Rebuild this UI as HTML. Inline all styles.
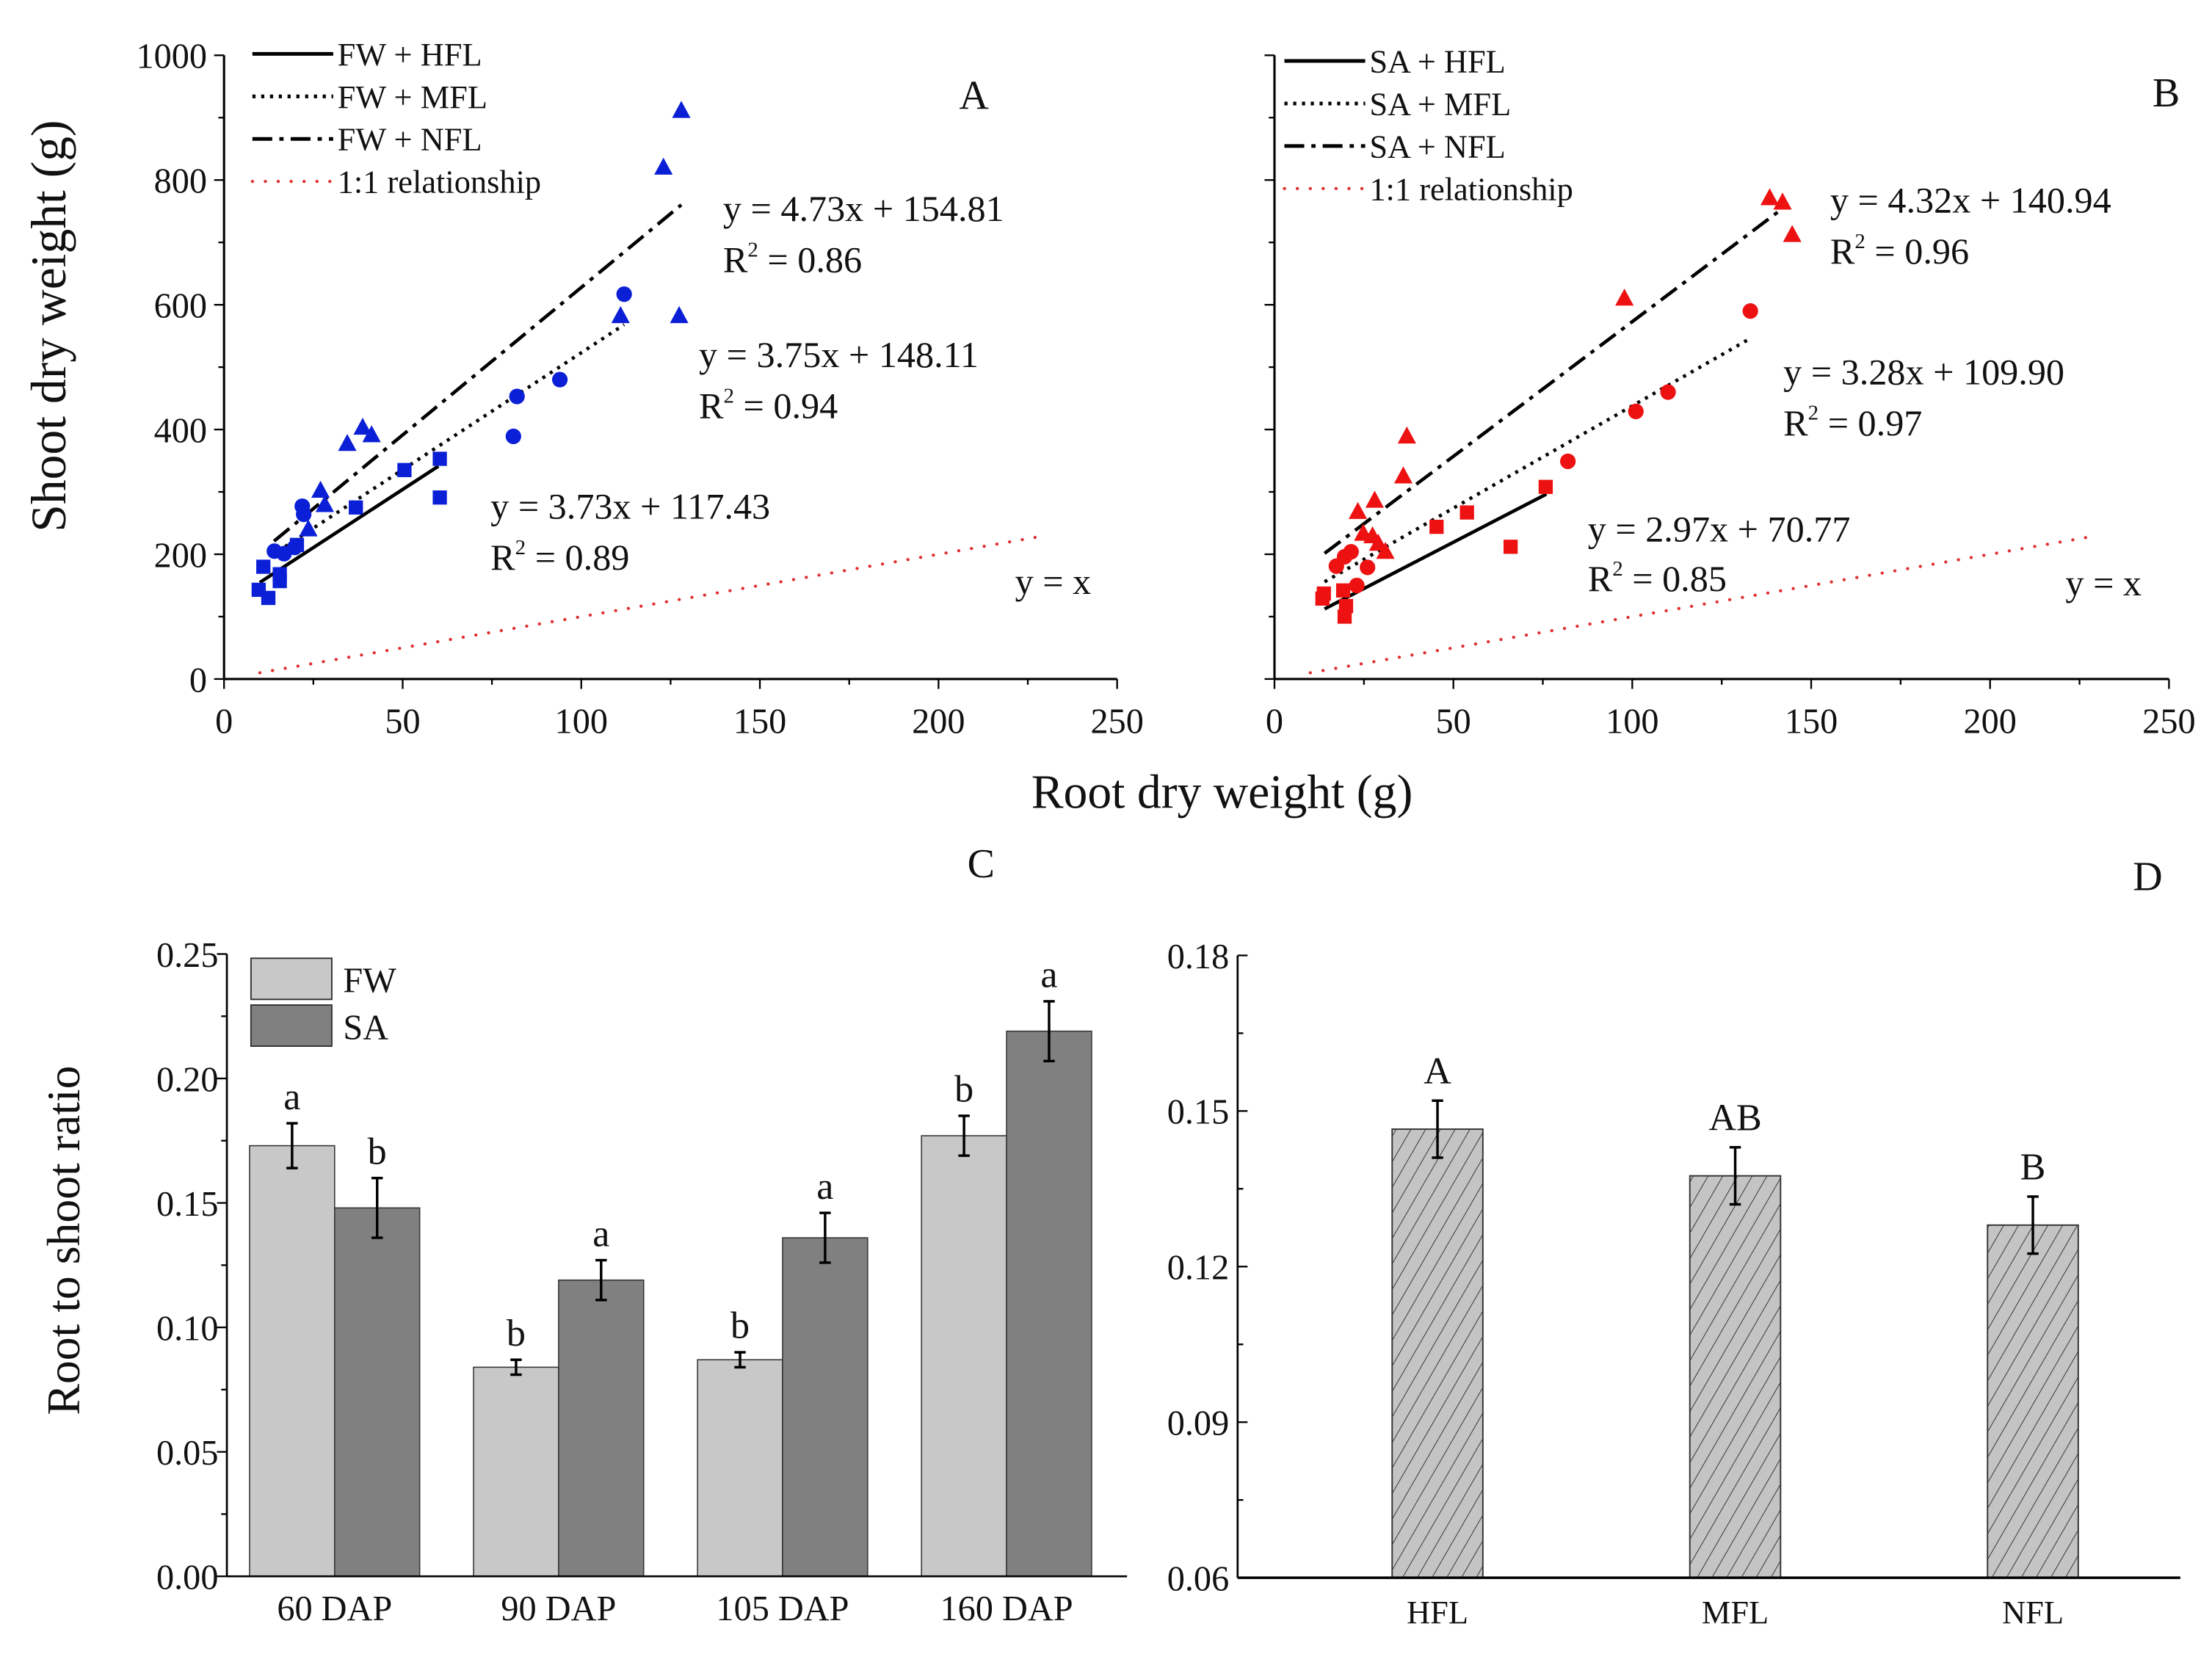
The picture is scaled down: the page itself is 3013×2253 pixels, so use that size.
<!DOCTYPE html>
<html><head><meta charset="utf-8"><style>
html,body{margin:0;padding:0;background:#fff;}
svg{display:block;font-family:"Liberation Serif",serif;}
</style></head><body>
<svg id="fig" width="3013" height="2253" viewBox="0 0 1560.3 1166.8" xmlns="http://www.w3.org/2000/svg">
<defs>
<pattern id="hatch" patternUnits="userSpaceOnUse" width="9" height="9" patternTransform="rotate(30)">
<rect width="9" height="9" fill="#c4c4c4"/><line x1="0" y1="0" x2="0" y2="9" stroke="#333" stroke-width="1"/>
</pattern>
</defs>
</svg>
<script>
// ---------- Panel A data ----------
const aHflX=[60.4,60.4,50.5,36.9,20.4,11,15.6,15.6,9.7,12.4];
const aHflY=[353,291,335,275,215,180,168,157,143,130];
const aMflX=[112,94,82,81,21.9,22.3,14.1,16.8,19.8];
const aMflY=[617,480,453,389,277,264,205,201,211];
const aNflX=[128,123,127.4,111,34.5,38.8,41.3,27,28.2,23.6];
const aNflY=[911,820,582,582,377,403,391,302,279,240];
const aFits=[[3.73,117.43,10,60],[3.75,148.11,13,112],[4.73,154.81,14,128]];
// ---------- Panel B data ----------
const bHflX=[75.8,53.8,45.3,66,13.8,13.4,19.2,19.6,20];
const bHflY=[308,267,244,212,137,129,142,100,117];
const bMflX=[133,110,101,82,26,21.4,17.3,19.6,23];
const bMflY=[590,460,429,349,179,204,181,196,150];
const bNflX=[138.4,142,144.7,97.8,37,36,28,23.3,24.8,27.4,31,29];
const bNflY=[771,764,712,610,389,325,286,268,233,229,204,217];
const bFits=[[2.97,70.77,14,76],[3.28,109.90,14,133],[4.32,140.94,14,143]];
const xTicks=[0,50,100,150,200,250];
const yTicks=[0,200,400,600,800,1000];
// ---------- Panel C data ----------
const cCats=["60 DAP","90 DAP","105 DAP","160 DAP"];
const cFW=[0.173,0.084,0.087,0.177];
const cSA=[0.148,0.119,0.136,0.219];
const cFWerr=[0.009,0.003,0.003,0.008];
const cSAerr=[0.012,0.008,0.010,0.012];
const cFWlet=["a","b","b","b"];
const cSAlet=["b","a","a","a"];
const cTicks=["0.00","0.05","0.10","0.15","0.20","0.25"];
// ---------- Panel D data ----------
const dCats=["HFL","MFL","NFL"];
const dVals=[0.1465,0.1375,0.128];
const dErr=[0.0055,0.0055,0.0055];
const dLet=["A","AB","B"];
const dTicks=["0.06","0.09","0.12","0.15","0.18"];

const svg=document.getElementById('fig');
const NS="http://www.w3.org/2000/svg";
function mk(tag,at,parent){const e=document.createElementNS(NS,tag);for(const k in at)e.setAttribute(k,at[k]);(parent||svg).appendChild(e);return e;}
function txt(s,x,y,size,anchor,parent){const t=mk('text',{x:x,y:y,'font-size':size,'text-anchor':anchor||'start',fill:'#111'},parent);t.textContent=s;return t;}

function scatterPanel(id,x0,x1,y0,y1,color,hx,hy,mx,my,nx,ny,fits,prefix,legX,legY,ann,letter,letPos,showYLabels){
  const g=mk('g',{});
  
  
  const sx=v=>x0+(v/250)*(x1-x0), sy=v=>y0-(v/1000)*(y0-y1);
  mk('line',{x1:x0,y1:y0,x2:x1,y2:y0,stroke:'#000','stroke-width':1.6},g);
  mk('line',{x1:x0,y1:y0,x2:x0,y2:y1,stroke:'#000','stroke-width':1.6},g);
  for(let v=0;v<=250;v+=25){const big=v%50===0;mk('line',{x1:sx(v),y1:y0,x2:sx(v),y2:y0+(big?7:4),stroke:'#000','stroke-width':1.2},g);}
  xTicks.forEach(v=>{const t=txt(String(v),sx(v),y0+38,25,'middle',g);});
  for(let v=0;v<=1000;v+=100){const big=v%200===0;mk('line',{x1:x0,y1:sy(v),x2:x0-(big?7:4),y2:sy(v),stroke:'#000','stroke-width':1.2},g);}
  if(showYLabels) yTicks.forEach(v=>{const t=txt(String(v),x0-12,sy(v)+9,25,'end',g);});
  const one=mk('line',{x1:sx(10),y1:sy(10),x2:sx(230),y2:sy(230),stroke:'#e03030','stroke-width':2.2,'stroke-dasharray':'0.1 9','stroke-linecap':'round'},g);
  
  const dashes=['none','2.2 4','14 5 3 5'];
  const fitNames=['hfl-fit-line','mfl-fit-line','nfl-fit-line'];
  fits.forEach((f,i)=>{const l=mk('line',{x1:sx(f[2]),y1:sy(f[0]*f[2]+f[1]),x2:sx(f[3]),y2:sy(f[0]*f[3]+f[1]),stroke:'#000','stroke-width':2.4,'stroke-dasharray':dashes[i]},g);
    });
  hx.forEach((v,i)=>{const r=mk('rect',{x:sx(v)-5,y:sy(hy[i])-5,width:10,height:10,fill:color},g);
    });
  mx.forEach((v,i)=>{const c=mk('circle',{cx:sx(v),cy:sy(my[i]),r:5.5,fill:color},g);
    });
  nx.forEach((v,i)=>{const X=sx(v),Y=sy(ny[i]);const p=mk('polygon',{points:`${X},${Y-7} ${X-6.5},${Y+5} ${X+6.5},${Y+5}`,fill:color},g);
    });
  const labs=[prefix+' + HFL',prefix+' + MFL',prefix+' + NFL','1:1 relationship'];
  labs.forEach((s,i)=>{const y=legY+i*30;
    if(i<3) mk('line',{x1:legX,y1:y,x2:legX+57,y2:y,stroke:'#000','stroke-width':2.6,'stroke-dasharray':dashes[i]},g);
    else mk('line',{x1:legX,y1:y,x2:legX+57,y2:y,stroke:'#e03030','stroke-width':2.2,'stroke-dasharray':'0.1 9','stroke-linecap':'round'},g);
    const t=txt(s,legX+60,y+8,23,'start',g);});
  ann.forEach(a=>{const t=mk('text',{x:a[1],y:a[2],'font-size':26,fill:'#111'},g);
    if(a[0].startsWith('R2')){t.innerHTML='R<tspan font-size="15" dy="-11">2</tspan><tspan dy="11"> = '+a[0].slice(3)+'</tspan>';}
    else t.textContent=a[0];
    });
  const L=txt(letter,letPos[0],letPos[1],29,'middle',g);
}
scatterPanel('panel-a-scatter',158,788,479,39,'#0a1fd6',aHflX,aHflY,aMflX,aMflY,aNflX,aNflY,aFits,'FW',178,38,
 [['y = 4.73x + 154.81',510,156],['R2 0.86',510,192],['y = 3.75x + 148.11',493,259],['R2 0.94',493,295],['y = 3.73x + 117.43',346,366],['R2 0.89',346,402],['y = x',716,419]],'A',[687,77],true);
scatterPanel('panel-b-scatter',899,1530,479,39,'#ee1111',bHflX,bHflY,bMflX,bMflY,bNflX,bNflY,bFits,'SA',906,43,
 [['y = 4.32x + 140.94',1291,150],['R2 0.96',1291,186],['y = 3.28x + 109.90',1258,271],['R2 0.97',1258,307],['y = 2.97x + 70.77',1120,382],['R2 0.85',1120,417],['y = x',1457,420]],'B',[1528,75],false);
let t=txt('Root dry weight (g)',862,570,34,'middle');
t=txt('Shoot dry weight (g)',0,0,35,'middle');t.setAttribute('transform','translate(46,230) rotate(-90)');

// ---------- Panel C ----------
(function(){
  const g=mk('g',{});
  
  
  const x0=160,x1=795,y0=1112,y1=673;
  const sy=v=>y0-(v/0.25)*(y0-y1);
  const gw=158, bw=60, start=236;
  cCats.forEach((c,i)=>{
    const cx=start+gw*i;
    [[cFW,cFWerr,cFWlet,'#c8c8c8',-1,'fw-bar'],[cSA,cSAerr,cSAlet,'#808080',0,'sa-bar']].forEach(s=>{
      const bx=cx+s[4]*bw, v=s[0][i], e=s[1][i];
      const r=mk('rect',{x:bx,y:sy(v),width:bw,height:y0-sy(v),fill:s[3],stroke:'#333','stroke-width':0.8},g);
      
      const ex=bx+bw/2;
      mk('line',{x1:ex,y1:sy(v+e),x2:ex,y2:sy(v-e),stroke:'#000','stroke-width':1.8},g);
      mk('line',{x1:ex-4,y1:sy(v+e),x2:ex+4,y2:sy(v+e),stroke:'#000','stroke-width':1.8},g);
      mk('line',{x1:ex-4,y1:sy(v-e),x2:ex+4,y2:sy(v-e),stroke:'#000','stroke-width':1.8},g);
      const l=txt(s[2][i],ex,sy(v+e)-10,27,'middle',g);
    });
    const lab=txt(c,cx,y0+31,25,'middle',g);
  });
  mk('line',{x1:x0,y1:y0,x2:x1,y2:y0,stroke:'#000','stroke-width':1.4},g);
  mk('line',{x1:x0,y1:y0,x2:x0,y2:y1,stroke:'#000','stroke-width':1.4},g);
  for(let k=0;k<=10;k++){const v=k*0.025;mk('line',{x1:x0,y1:sy(v),x2:x0-(k%2?4:7),y2:sy(v),stroke:'#000','stroke-width':1.2},g);}
  cTicks.forEach(s=>{const l=txt(s,x0-6,sy(parseFloat(s))+9,25,'end',g);});
  [['FW','#c8c8c8',676],['SA','#808080',709]].forEach(s=>{
    const r=mk('rect',{x:177,y:s[2],width:57,height:29,fill:s[1],stroke:'#333','stroke-width':1},g);
    
    const l=txt(s[0],242,s[2]+24,25,'start',g);});
  let y=txt('Root to shoot ratio',0,0,33,'middle',g);y.setAttribute('transform','translate(56,875) rotate(-90)');
  let L=txt('C',692,619,29,'middle',g);
})();

// ---------- Panel D ----------
(function(){
  const g=mk('g',{});
  
  
  const x0=873,x1=1538,y0=1113,y1=674;
  const sy=v=>y0-((v-0.06)/0.12)*(y0-y1);
  const gw=210, bw=64, start=1014;
  dCats.forEach((c,i)=>{
    const cx=start+gw*i, v=dVals[i], e=dErr[i];
    const r=mk('rect',{x:cx-bw/2,y:sy(v),width:bw,height:y0-sy(v),fill:'url(#hatch)',stroke:'#333','stroke-width':1},g);
    
    mk('line',{x1:cx,y1:sy(v+e),x2:cx,y2:sy(v-e),stroke:'#000','stroke-width':1.8},g);
    mk('line',{x1:cx-4,y1:sy(v+e),x2:cx+4,y2:sy(v+e),stroke:'#000','stroke-width':1.8},g);
    mk('line',{x1:cx-4,y1:sy(v-e),x2:cx+4,y2:sy(v-e),stroke:'#000','stroke-width':1.8},g);
    const l=txt(dLet[i],cx,sy(v+e)-12,27,'middle',g);
    const lab=txt(c,cx,y0+32,23,'middle',g);
  });
  mk('line',{x1:x0,y1:y0,x2:x1,y2:y0,stroke:'#000','stroke-width':1.8},g);
  mk('line',{x1:x0,y1:y0,x2:x0,y2:y1,stroke:'#000','stroke-width':1.4},g);
  for(let k=0;k<=8;k++){const v=0.06+k*0.015;mk('line',{x1:x0,y1:sy(v),x2:x0+(k%2?4:7),y2:sy(v),stroke:'#000','stroke-width':1.2},g);}
  dTicks.forEach(s=>{const l=txt(s,x0-6,sy(parseFloat(s))+9,25,'end',g);});
  let L=txt('D',1515,628,29,'middle',g);
})();
</script>
</body></html>
